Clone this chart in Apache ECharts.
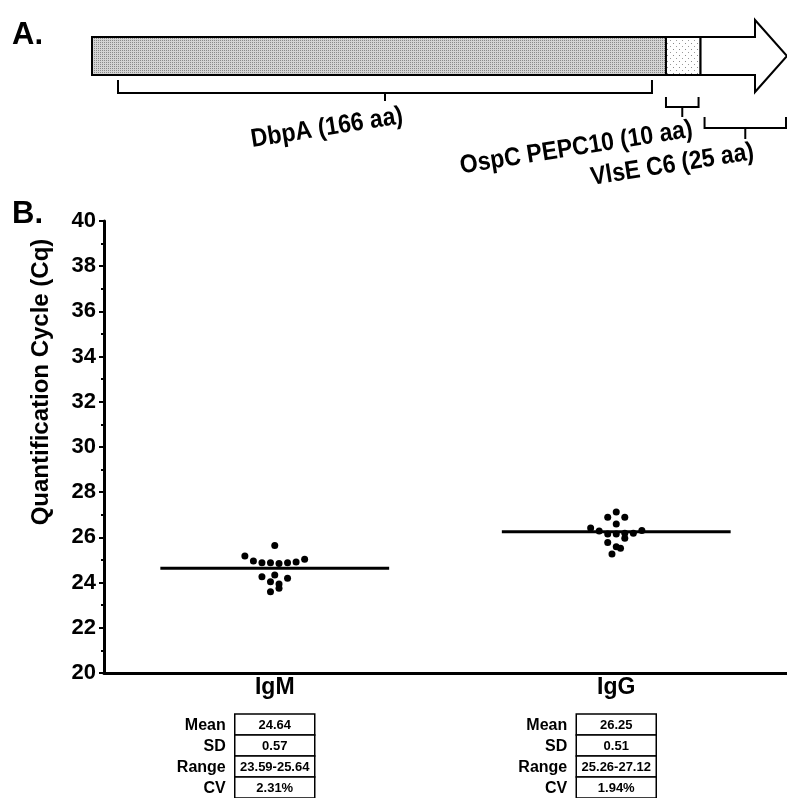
<!DOCTYPE html>
<html>
<head>
<meta charset="utf-8">
<script src="https://cdn.jsdelivr.net/npm/echarts@6/dist/echarts.min.js"></script>
<style>
html,body{margin:0;padding:0;background:#fff;}
#chart{width:787px;height:798px;}
</style>
</head>
<body>
<div id="chart"></div>
<script>
// ---------- data ----------
const categories = ['IgM', 'IgG'];
const means = [24.64, 26.25];
// horizontal jitter of each dot, in dot-spacing units, and its Cq value
const igmOffsets = [0, -3.5, -2.5, -1.5, -0.5, 0.5, 1.5, 2.5, 3.5, -1.5, 0, 1.5, -0.5, 0.5, 0.5, -0.5];
const igmValues  = [25.64, 25.18, 24.96, 24.88, 24.88, 24.85, 24.88, 24.91, 25.03, 24.26, 24.34, 24.19, 24.04, 23.94, 23.75, 23.59];
const iggOffsets = [0, -1, 1, 0, -3, -2, -1, 0, 1, 2, 3, 1, -1, 0, 0.5, -0.5];
const iggValues  = [27.12, 26.89, 26.89, 26.59, 26.42, 26.28, 26.15, 26.15, 26.18, 26.18, 26.30, 25.96, 25.77, 25.59, 25.52, 25.26];
const statLabels = ['Mean', 'SD', 'Range', 'CV'];
const igmStats = ['24.64', '0.57', '23.59-25.64', '2.31%'];
const iggStats = ['26.25', '0.51', '25.26-27.12', '1.94%'];
const segNames = ['DbpA (166 aa)', 'OspC PEPC10 (10 aa)', 'VlsE C6 (25 aa)'];
const segLengths = [166, 10, 25];
const yMin = 20, yMax = 40, yStep = 2;
const yTitle = 'Quantification Cycle (Cq)';

// ---------- helpers ----------
const FONT = "'Liberation Sans', Arial, Helvetica, sans-serif";
const JITTER = 0.025;     // category units per dot spacing
const MEAN_HALF = 0.335;  // half width of mean bar, category units

function makePattern(size, bg, dots) {
  const c = document.createElement('canvas');
  c.width = size; c.height = size;
  const g = c.getContext('2d');
  g.fillStyle = bg; g.fillRect(0, 0, size, size);
  dots.forEach(d => { g.fillStyle = d[2]; g.fillRect(d[0], d[1], 1, 1); });
  return c;
}
const stipple = makePattern(2, '#d4d4d4', [[0, 0, '#8a8a8a']]);
const sparse = makePattern(6, '#ffffff', [[1, 1, '#8a8a8a'], [4, 4, '#9a9a9a']]);

const scatterData = (offs, vals, ci) => vals.map((v, i) => [ci + 0.5 + offs[i] * JITTER, v]);

const segData = [];
{
  let s = 0;
  segLengths.forEach((len, i) => { segData.push([s, s + len, i]); s += len; });
}
const totalAA = segLengths.reduce((a, b) => a + b, 0);

// per-segment brace / label geometry (pixels)
const braceStyle = [
  { inL: 26, inR: 14, dy: 5, h: 13, stem: 8, tx: -58, ty: 53 },
  { inL: 0, inR: 2, dy: 22, h: 10, stem: 10, tx: -106, ty: 73 },
  { inL: 4, inR: 1, dy: 42, h: 11, stem: 11, tx: -73, ty: 90 }
];

function renderSegment(params, api) {
  const i = api.value(2);
  const x0 = api.coord([api.value(0), 0])[0];
  const x1 = api.coord([api.value(1), 0])[0];
  const cs = params.coordSys;
  const top = cs.y, bot = cs.y + cs.height, mid = (top + bot) / 2;
  const children = [];
  if (i === 0) {
    children.push({ type: 'rect', shape: { x: x0, y: top, width: x1 - x0, height: bot - top },
      style: { fill: { image: stipple, repeat: 'repeat' }, stroke: '#000', lineWidth: 2 } });
  } else if (i === 1) {
    children.push({ type: 'rect', shape: { x: x0, y: top, width: x1 - x0, height: bot - top },
      style: { fill: { image: sparse, repeat: 'repeat' }, stroke: '#000', lineWidth: 2 } });
  } else {
    const head = 32, ext = 17;
    const xh = x1 - head;
    children.push({ type: 'polygon', shape: { points: [[x0, top], [xh, top], [xh, top - ext], [x1, mid], [xh, bot + ext], [xh, bot], [x0, bot]] },
      style: { fill: '#fff', stroke: '#000', lineWidth: 2 } });
  }
  const b = braceStyle[i];
  const a = x0 + b.inL, e = x1 - b.inR, c = (a + e) / 2;
  const y0 = bot + b.dy, y1 = y0 + b.h;
  children.push({ type: 'polyline', shape: { points: [[a, y0], [a, y1], [e, y1], [e, y0]] },
    style: { stroke: '#000', lineWidth: 2, fill: null } });
  children.push({ type: 'line', shape: { x1: c, y1: y1, x2: c, y2: y1 + b.stem },
    style: { stroke: '#000', lineWidth: 2 } });
  children.push({ type: 'text', x: c + b.tx, y: bot + b.ty, rotation: 9 * Math.PI / 180, scaleY: 1.12,
    style: { text: segNames[i], x: 0, y: 0, align: 'center', verticalAlign: 'middle',
      fontSize: 23, fontWeight: 'bold', fontFamily: FONT, fill: '#000' } });
  return { type: 'group', children };
}

function renderMean(params, api) {
  const x = api.value(0), v = api.value(1);
  const p0 = api.coord([x - MEAN_HALF, v]);
  const p1 = api.coord([x + MEAN_HALF, v]);
  return { type: 'line', shape: { x1: p0[0], y1: p0[1], x2: p1[0], y2: p1[1] },
    style: { stroke: '#000', lineWidth: 3 } };
}

function renderTable(params, api) {
  const ci = api.value(1);
  const cx = api.coord([api.value(0), yMin])[0];
  const stats = ci === 0 ? igmStats : iggStats;
  const cs = params.coordSys;
  const top = cs.y + cs.height + 41, rowH = 21, w = 80;
  const children = [];
  statLabels.forEach((lab, r) => {
    const y = top + r * rowH;
    children.push({ type: 'rect', shape: { x: cx - w / 2, y: y, width: w, height: rowH },
      style: { fill: '#fff', stroke: '#000', lineWidth: 1.5 } });
    children.push({ type: 'text', style: { text: lab, x: cx - w / 2 - 9, y: y + rowH / 2 + 1,
      align: 'right', verticalAlign: 'middle', fontSize: 16, fontWeight: 'bold', fontFamily: FONT, fill: '#000' } });
    children.push({ type: 'text', style: { text: stats[r], x: cx, y: y + rowH / 2 + 1,
      align: 'center', verticalAlign: 'middle', fontSize: 13, fontWeight: 'bold', fontFamily: FONT, fill: '#000' } });
  });
  return { type: 'group', children };
}

const chart = echarts.init(document.getElementById('chart'), null, { renderer: 'canvas' });
chart.setOption({
  backgroundColor: '#fff',
  animation: false,
  textStyle: { fontFamily: FONT },
  graphic: [
    { type: 'text', left: 12, top: 20, style: { text: 'A.', fontSize: 31, fontWeight: 'bold', fontFamily: FONT, fill: '#000' } },
    { type: 'text', left: 12, top: 199, style: { text: 'B.', fontSize: 31, fontWeight: 'bold', fontFamily: FONT, fill: '#000' } },
    { type: 'text', x: 41, y: 382, rotation: Math.PI / 2,
      style: { text: yTitle, x: 0, y: 0, align: 'center', verticalAlign: 'middle',
        fontSize: 24, fontWeight: 'bold', fontFamily: FONT, fill: '#000' } }
  ],
  grid: [
    { left: 104, right: 0, top: 221, bottom: 125, containLabel: false },
    { left: 92, right: 0, top: 37, height: 38, containLabel: false }
  ],
  xAxis: [
    { type: 'category', gridIndex: 0, data: categories, boundaryGap: true,
      axisLine: { lineStyle: { color: '#000', width: 3 } },
      axisTick: { alignWithLabel: true, length: 5, lineStyle: { color: '#000', width: 2 } },
      axisLabel: { color: '#000', fontSize: 23, fontWeight: 'bold', fontFamily: FONT, margin: 3 },
      splitLine: { show: false } },
    { type: 'value', gridIndex: 0, min: 0, max: categories.length, show: false },
    { type: 'value', gridIndex: 1, min: 0, max: totalAA, show: false }
  ],
  yAxis: [
    { type: 'value', gridIndex: 0, min: yMin, max: yMax, interval: yStep,
      axisLine: { show: true, lineStyle: { color: '#000', width: 3 } },
      axisTick: { show: true, length: 5, lineStyle: { color: '#000', width: 2 } },
      minorTick: { show: true, splitNumber: 2, length: 3, lineStyle: { color: '#000', width: 2 } },
      axisLabel: { color: '#000', fontSize: 22, fontWeight: 'bold', fontFamily: FONT, margin: 8 },
      splitLine: { show: false } },
    { type: 'value', gridIndex: 1, min: 0, max: 1, show: false }
  ],
  series: [
    { type: 'custom', xAxisIndex: 2, yAxisIndex: 1, renderItem: renderSegment, data: segData, silent: true },
    { type: 'custom', xAxisIndex: 1, yAxisIndex: 0, renderItem: renderMean,
      data: means.map((m, i) => [i + 0.5, m]), silent: true, z: 3 },
    { type: 'scatter', xAxisIndex: 1, yAxisIndex: 0, data: scatterData(igmOffsets, igmValues, 0),
      symbol: 'circle', symbolSize: 7, itemStyle: { color: '#000', opacity: 1 }, z: 4 },
    { type: 'scatter', xAxisIndex: 1, yAxisIndex: 0, data: scatterData(iggOffsets, iggValues, 1),
      symbol: 'circle', symbolSize: 7, itemStyle: { color: '#000', opacity: 1 }, z: 4 },
    { type: 'custom', xAxisIndex: 1, yAxisIndex: 0, renderItem: renderTable, clip: false,
      data: categories.map((c, i) => [i + 0.5, i]), silent: true }
  ]
});
</script>
</body>
</html>
